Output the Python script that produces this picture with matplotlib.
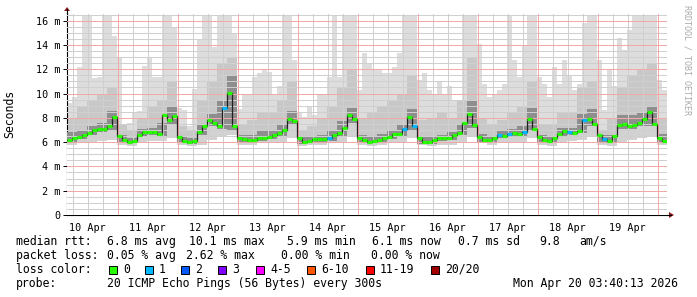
import numpy as np
import pandas as pd
import matplotlib
matplotlib.use("Agg")
import matplotlib.pyplot as plt
import matplotlib.dates as mdates
from matplotlib.patches import Rectangle, Polygon
from matplotlib.lines import Line2D

# ---------------- data ----------------
start = pd.Timestamp("2026-04-10 03:40:13")
n_fine = 120          # 2-hour bins
n_coarse = 60         # 4-hour bins

# median rtt (ms) per 2-hour bin
median_ms = [6.15, 6.3, 6.4, 6.55, 6.75, 7.0, 7.1, 7.1, 7.3, 8.1,
             6.5, 6.15, 6.05, 6.1, 6.6, 6.8, 6.8, 6.8, 6.7, 8.2,
             7.8, 8.15, 6.45, 6.1, 6.0, 6.1, 6.8, 7.3, 7.8, 7.6,
             7.3, 8.85, 10.05, 7.3, 6.3, 6.25, 6.15, 6.2, 6.3, 6.35,
             6.45, 6.55, 6.75, 7.0, 7.9, 7.7, 6.3, 6.0, 6.1, 6.25,
             6.25, 6.25, 6.3, 6.55, 6.75, 7.2, 8.2, 7.9, 6.3, 6.2,
             6.05, 6.1, 6.2, 6.35, 6.45, 6.65, 6.7, 7.1, 8.1, 7.3,
             6.3, 6.0, 6.05, 6.2, 6.3, 6.35, 6.35, 6.55, 6.75, 7.6,
             8.3, 7.4, 6.45, 6.2, 6.2, 6.35, 6.6, 6.5, 6.7, 6.75,
             6.7, 6.8, 7.9, 7.1, 6.4, 6.15, 6.1, 6.3, 6.7, 6.95,
             6.85, 6.75, 6.95, 7.8, 7.9, 7.5, 6.6, 6.25, 6.1, 6.5,
             7.4, 7.5, 7.3, 7.45, 7.55, 7.9, 8.45, 7.5, 6.35, 6.1]

# lost pings per bin (out of 20)
loss_pings = [0] * 31 + [1] + [0] * 20 + [1] + [0] * 14 + [1, 0, 1] + [0] * 16 + \
             [1, 0, 1, 0, 0, 1] + [0] * 8 + [1, 0, 0, 1, 0, 0, 0, 1] + [0] * 12

# smoke: highest ping per 2-hour bin (ms)
smoke_top = [9.2, 9.7, 12.2, 16.5, 16.5, 11.3, 11.4, 16.5, 16.5, 14.7,
             12.9, 7.3, 7.6, 8.4, 8.6, 12.3, 12.9, 11.4, 11.4, 16.5,
             16.5, 15.5, 8.8, 8.65, 7.3, 10.4, 14.5, 16.5, 16.5, 13.8,
             16.5, 16.5, 16.5, 15.0, 8.7, 10.0, 10.0, 11.4, 11.7, 12.0,
             11.8, 10.0, 10.6, 16.5, 16.5, 12.8, 8.4, 8.1, 8.9, 8.2,
             10.0, 10.0, 11.4, 16.5, 11.4, 16.5, 16.5, 16.5, 10.3, 13.3,
             12.5, 11.9, 11.9, 11.7, 11.7, 12.2, 13.3, 16.5, 16.5, 16.5,
             11.1, 11.7, 10.3, 9.9, 11.0, 10.0, 10.6, 9.5, 8.65, 16.5,
             16.5, 16.5, 14.1, 10.8, 9.7, 10.0, 10.3, 10.8, 16.5, 12.8,
             11.4, 13.9, 16.5, 16.5, 11.4, 10.8, 9.7, 12.2, 10.8, 12.8,
             11.5, 10.3, 10.8, 15.8, 16.5, 16.5, 12.8, 8.65, 12.0, 10.6,
             14.6, 13.6, 15.2, 16.5, 16.5, 16.5, 16.5, 16.5, 11.1, 10.3]

# smoke: upper edge of the medium-grey band per 4-hour bin (ms)
smoke_mid = [8.0, 9.0, 9.5, 10.0, 10.5, 7.5, 7.0, 8.0, 9.0, 9.5,
             11.0, 7.3, 7.0, 9.5, 11.0, 12.5, 13.0, 7.5, 7.8, 8.5,
             8.5, 9.5, 11.0, 7.0, 7.3, 8.0, 9.0, 10.5, 12.0, 8.0,
             8.5, 9.0, 9.5, 10.0, 11.5, 7.8, 8.0, 8.5, 8.0, 9.5,
             13.0, 8.0, 7.5, 7.8, 8.5, 9.0, 11.0, 7.5, 7.5, 8.5,
             8.5, 10.5, 11.0, 7.0, 8.0, 10.5, 11.5, 12.0, 12.5, 8.0]

# smoke: upper edge of the dark-grey band per 4-hour bin (ms)
smoke_inner = [6.8, 7.0, 7.3, 7.6, 8.6, 6.6, 6.3, 7.1, 7.2, 7.6,
               9.0, 6.5, 6.3, 7.5, 8.3, 9.5, 11.5, 6.6, 6.6, 6.9,
               7.0, 7.4, 8.6, 6.4, 6.4, 6.6, 7.0, 7.7, 8.8, 6.6,
               6.5, 6.7, 7.0, 7.5, 8.7, 6.5, 6.4, 6.6, 6.8, 7.5,
               9.5, 6.7, 6.5, 6.9, 7.1, 7.3, 8.8, 6.6, 6.4, 7.2,
               7.2, 8.3, 8.7, 6.6, 6.6, 8.2, 8.2, 8.5, 9.0, 6.7]

# smoke: lowest ping per 4-hour bin (ms)
smoke_low = [5.8, 5.9, 6.0, 6.1, 6.2, 5.8, 5.7, 5.9, 6.1, 6.1,
             6.3, 5.8, 5.7, 5.8, 6.2, 6.4, 6.6, 5.8, 5.8, 5.9,
             6.0, 6.0, 6.3, 5.7, 5.8, 5.8, 5.9, 6.0, 6.4, 5.8,
             5.7, 5.8, 5.9, 6.0, 6.3, 5.8, 5.7, 5.8, 5.8, 5.9,
             6.5, 5.9, 5.8, 5.9, 5.9, 6.0, 6.3, 5.8, 5.7, 6.0,
             6.1, 6.2, 6.4, 5.8, 5.7, 6.0, 6.2, 6.3, 6.4, 5.8]

# smoke: lower edge of the darker bands per 4-hour bin (ms)
smoke_low_inner = [6.0, 6.25, 6.55, 6.85, 7.0, 6.0, 5.9, 6.4, 6.55, 6.5,
                   7.5, 5.95, 5.85, 6.55, 7.3, 7.05, 7.0, 6.05, 6.0, 6.1,
                   6.25, 6.5, 7.4, 5.85, 5.9, 6.05, 6.1, 6.5, 7.6, 6.0,
                   5.9, 6.0, 6.25, 6.5, 7.0, 5.85, 5.85, 6.1, 6.15, 6.55,
                   7.2, 6.0, 6.0, 6.3, 6.5, 6.5, 6.9, 5.95, 5.9, 6.5,
                   6.55, 6.75, 7.3, 6.05, 5.9, 7.1, 7.1, 7.35, 7.3, 5.9]

y_ticks = [0, 2, 4, 6, 8, 10, 12, 14, 16]
y_tick_labels = ["0", "2 m", "4 m", "6 m", "8 m", "10 m", "12 m", "14 m", "16 m"]
day_labels = ["10 Apr", "11 Apr", "12 Apr", "13 Apr", "14 Apr",
              "15 Apr", "16 Apr", "17 Apr", "18 Apr", "19 Apr"]

loss_labels = ["0", "1", "2", "3", "4-5", "6-10", "11-19", "20/20"]
loss_colors = ["#26ff00", "#00b8ff", "#0059ff", "#7e00ff",
               "#ff00ff", "#ff5500", "#ff0000", "#a10000"]

rtt_stats = ["6.8 ms avg", "10.1 ms max", "5.9 ms min", "6.1 ms now", "0.7 ms sd", "9.8", "am/s"]
loss_stats = ["0.05 % avg", "2.62 % max", "0.00 % min", "0.00 % now"]

# ---------------- figure ----------------
W, H = 697, 297
fig = plt.figure(figsize=(W / 100, H / 100), dpi=100)
fig.patch.set_facecolor("white")

def fx(px):
    return px / W

def fy(py):
    return 1 - py / H

ax_l, ax_r, ax_b, ax_t = 67, 667, 215, 13
ax = fig.add_axes([fx(ax_l), fy(ax_b), (ax_r - ax_l) / W, (ax_b - ax_t) / H])
ax.set_facecolor("white")

t_fine = mdates.date2num(pd.date_range(start, periods=n_fine + 1, freq="2h"))
t_coarse = mdates.date2num(pd.date_range(start, periods=n_coarse + 1, freq="4h"))

def ext(v):
    v = np.asarray(v, dtype=float)
    return np.append(v, v[-1])

# smoke bands
ax.fill_between(t_fine, 0, ext(smoke_top), step="post", color="#dddddd", lw=0, zorder=1)
ax.fill_between(t_coarse, 0, ext(smoke_mid), step="post", color="#c8c8c8", lw=0, zorder=2)
ax.fill_between(t_coarse, 0, ext(smoke_inner), step="post", color="#8e8e8e", lw=0, zorder=3)
ax.fill_between(t_coarse, 0, ext(smoke_low_inner), step="post", color="#d2d2d2", lw=0, zorder=4)
ax.fill_between(t_coarse, 0, ext(smoke_low), step="post", color="white", lw=0, zorder=5)

# grid
y_top = 16.63
x0, x1 = t_fine[0], t_fine[-1]
midnights = mdates.date2num(pd.date_range("2026-04-11", periods=10, freq="1D"))
six_hours = mdates.date2num(pd.date_range("2026-04-10 06:00", "2026-04-20 03:00", freq="6h"))
minor_col = "#cfcfcf"
major_col = "#f0a8a8"
dots = (0, (1, 1))
for t in six_hours:
    ax.axvline(t, color=minor_col, lw=0.72, ls=dots, zorder=6, antialiased=False)
for yv in np.arange(0.5, 16.6, 0.5):
    ax.axhline(yv, color=minor_col, lw=0.72, ls=dots, zorder=6, antialiased=False)
for t in midnights:
    ax.axvline(t, color=major_col, lw=0.72, ls=dots, zorder=7, antialiased=False)
for yv in y_ticks[1:]:
    ax.axhline(yv, color=major_col, lw=0.72, ls=dots, zorder=7, antialiased=False)

# median: dark connector + loss-coloured segments
ax.step(t_fine, ext(median_ms), where="post", color="#202020", lw=0.9, zorder=8)
seg_colors = [loss_colors[min(l, 1)] for l in loss_pings]
ax.hlines(median_ms, t_fine[:-1], t_fine[1:], colors=seg_colors, lw=2.3, zorder=9)

ax.set_xlim(x0, x1)
ax.set_ylim(0, y_top)

# ticks
ax.set_yticks(y_ticks)
ax.set_yticklabels(y_tick_labels)
noons = mdates.date2num(pd.date_range("2026-04-10 12:00", periods=10, freq="1D"))
ax.set_xticks(noons)
ax.set_xticklabels(day_labels)
ax.tick_params(axis="x", length=0, pad=6, labelsize=7.3)
ax.tick_params(axis="y", length=3, width=0.7, pad=2, labelsize=7.3, direction="out")
for lab in ax.get_xticklabels() + ax.get_yticklabels():
    lab.set_family("DejaVu Sans Mono")
for s in ["top", "right"]:
    ax.spines[s].set_visible(False)
for s in ["left", "bottom"]:
    ax.spines[s].set_color("#000000")
    ax.spines[s].set_linewidth(0.8)

# axis arrows
arrow_col = "#8b1a1a"
fig.add_artist(Line2D([fx(ax_r), fx(671)], [fy(ax_b), fy(ax_b)], color="black", lw=0.8))
fig.add_artist(Polygon([[fx(669), fy(212)], [fx(674), fy(215)], [fx(669), fy(218)]],
                       closed=True, color=arrow_col, lw=0))
fig.add_artist(Line2D([fx(ax_l), fx(ax_l)], [fy(ax_t), fy(9)], color="black", lw=0.8))
fig.add_artist(Polygon([[fx(64), fy(11)], [fx(67), fy(7)], [fx(70), fy(11)]],
                       closed=True, color=arrow_col, lw=0))

mono = "DejaVu Sans Mono"
fig.text(fx(10), fy(114), "Seconds", rotation=90, ha="center", va="center",
         family=mono, size=8.3, color="#000000")
fig.text(fx(687), fy(5), "RRDTOOL / TOBI OETIKER", rotation=270, ha="center", va="top",
         family=mono, size=6.0, color="#aaaaaa")

# legend
fs = 8.3
def txt(px, py, s):
    fig.text(fx(px), fy(py), s, family=mono, size=fs, va="center", ha="left")

txt(16, 241.5, "median rtt:")
for px, s in zip([107, 189, 287, 372, 458, 539, 579], rtt_stats):
    txt(px, 241.5, s)
txt(16, 255.5, "packet loss:")
for px, s in zip([107, 186, 281, 371], loss_stats):
    txt(px, 255.5, s)
txt(16, 269.5, "loss color:")
sw_x = [109, 145, 181, 218, 256, 307, 366, 431]
for xs, lab, col in zip(sw_x, loss_labels, loss_colors):
    fig.add_artist(Rectangle((fx(xs), fy(274)), 8 / W, 8 / H, facecolor=col,
                             edgecolor="black", lw=0.7))
    txt(xs + 14, 269.5, lab)
txt(16, 283, "probe:")
txt(107, 283, "20 ICMP Echo Pings (56 Bytes) every 300s")
txt(513, 283, "Mon Apr 20 03:40:13 2026")

fig.savefig("out.png", dpi=100, facecolor="white")
